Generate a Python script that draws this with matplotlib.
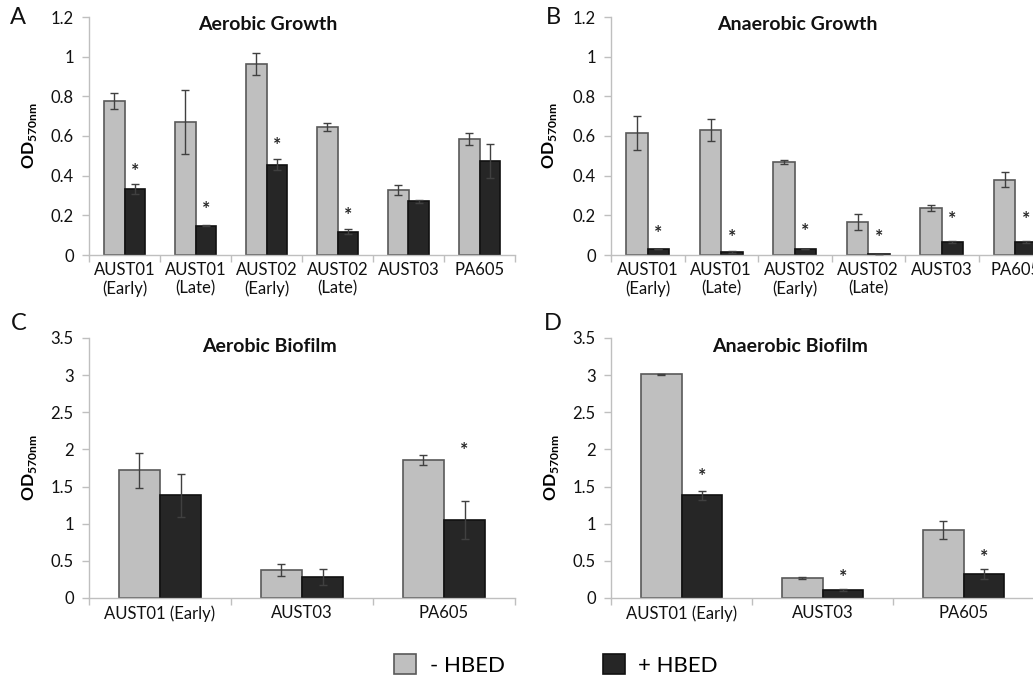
import numpy as np
import matplotlib.pyplot as plt
from matplotlib.patches import Patch

plt.rcParams['font.family'] = ['Lato', 'DejaVu Sans']
plt.rcParams['mathtext.fontset'] = 'custom'
plt.rcParams['mathtext.rm'] = 'Lato'
plt.rcParams['mathtext.bf'] = 'Lato:bold'

# strains
growth_labels = ['AUST01\n(Early)', 'AUST01\n(Late)', 'AUST02\n(Early)', 'AUST02\n(Late)', 'AUST03', 'PA605']
biofilm_labels = ['AUST01 (Early)', 'AUST03', 'PA605']

# A - aerobic growth
aer_growth_minus = [0.775, 0.67, 0.965, 0.645, 0.33, 0.585]
aer_growth_minus_err = [0.04, 0.16, 0.055, 0.02, 0.025, 0.03]
aer_growth_plus = [0.335, 0.148, 0.455, 0.118, 0.27, 0.475]
aer_growth_plus_err = [0.025, 0.004, 0.028, 0.012, 0.006, 0.085]
aer_growth_star = [0.42, 0.23, 0.55, 0.20, None, None]

# B - anaerobic growth
ana_growth_minus = [0.615, 0.63, 0.468, 0.165, 0.235, 0.38]
ana_growth_minus_err = [0.085, 0.055, 0.01, 0.04, 0.015, 0.037]
ana_growth_plus = [0.03, 0.015, 0.03, 0.005, 0.065, 0.065]
ana_growth_plus_err = [0.002, 0.004, 0.002, 0.001, 0.006, 0.007]
ana_growth_star = [0.11, 0.086, 0.116, 0.086, 0.18, 0.18]

# C - aerobic biofilm
aer_bio_minus = [1.72, 0.38, 1.86]
aer_bio_minus_err = [0.235, 0.08, 0.07]
aer_bio_plus = [1.38, 0.28, 1.05]
aer_bio_plus_err = [0.295, 0.11, 0.255]
aer_bio_star = [None, None, 1.98]

# D - anaerobic biofilm
ana_bio_minus = [3.01, 0.265, 0.91]
ana_bio_minus_err = [0.01, 0.012, 0.12]
ana_bio_plus = [1.38, 0.11, 0.32]
ana_bio_plus_err = [0.065, 0.015, 0.07]
ana_bio_star = [1.64, 0.27, 0.55]

light = '#bfbfbf'
dark = '#262626'
W, H = 1033, 678

fig = plt.figure(figsize=(W / 100, H / 100), dpi=100)


def px_axes(x0, x1, ytop, ybot):
    return fig.add_axes([x0 / W, 1 - ybot / H, (x1 - x0) / W, (ybot - ytop) / H])


def panel(ax, labels, minus, minus_err, plus, plus_err, stars, ymax, ystep):
    x = np.arange(len(labels))
    w = 0.29
    ax.bar(x - w / 2, minus, w, color=light, edgecolor='#595959', linewidth=1.2, zorder=2)
    ax.bar(x + w / 2, plus, w, color=dark, edgecolor='#111111', linewidth=1.2, zorder=2)
    ekw = dict(fmt='none', ecolor='#404040', elinewidth=1, capsize=3, capthick=1, zorder=3)
    ax.errorbar(x - w / 2, minus, yerr=minus_err, **ekw)
    ax.errorbar(x + w / 2, plus, yerr=plus_err, **ekw)
    for xi, s in zip(x, stars):
        if s is not None:
            ax.text(xi + w / 2, s, '*', ha='center', va='center', fontsize=14,
                    fontweight='bold', color='#262626')
    ax.set_xlim(-0.5, len(labels) - 0.5)
    ax.set_ylim(0, ymax)
    ticks = np.arange(0, ymax + 1e-9, ystep)
    ax.set_yticks(ticks)
    ax.set_yticklabels([f'{v:g}' for v in ticks])
    ax.set_xticks(x)
    ax.set_xticklabels(labels)
    ax.set_xticks(np.arange(-0.5, len(labels), 1), minor=True)
    ax.tick_params(axis='x', which='major', length=0, labelsize=12, pad=5, labelcolor='#111111')
    ax.tick_params(axis='x', which='minor', length=5, color=light, width=1)
    ax.tick_params(axis='y', length=5, color=light, width=1, labelsize=12, pad=6, labelcolor='#111111')
    for side in ['top', 'right']:
        ax.spines[side].set_visible(False)
    for side in ['left', 'bottom']:
        ax.spines[side].set_color(light)
        ax.spines[side].set_linewidth(1)
    ax.set_ylabel(r'$\mathbf{OD}_{\mathbf{570nm}}$', fontsize=12.5)
    ax.yaxis.set_label_coords(-0.118, 0.5)


axA = px_axes(89, 515, 17, 255)
panel(axA, growth_labels, aer_growth_minus, aer_growth_minus_err, aer_growth_plus,
      aer_growth_plus_err, aer_growth_star, 1.2, 0.2)
axB = px_axes(611, 1052, 17, 255)
panel(axB, growth_labels, ana_growth_minus, ana_growth_minus_err, ana_growth_plus,
      ana_growth_plus_err, ana_growth_star, 1.2, 0.2)
axC = px_axes(89, 515, 338, 598)
panel(axC, biofilm_labels, aer_bio_minus, aer_bio_minus_err, aer_bio_plus,
      aer_bio_plus_err, aer_bio_star, 3.5, 0.5)
axD = px_axes(611, 1034, 338, 598)
panel(axD, biofilm_labels, ana_bio_minus, ana_bio_minus_err, ana_bio_plus,
      ana_bio_plus_err, ana_bio_star, 3.5, 0.5)

# titles and panel letters
for txt, cx, cy in [('Aerobic Growth', 268, 24), ('Anaerobic Growth', 797, 24),
                    ('Aerobic Biofilm', 269, 346), ('Anaerobic Biofilm', 790, 346)]:
    fig.text(cx / W, 1 - cy / H, txt, ha='center', va='center', fontsize=14, fontweight='bold', color='#111111')
for txt, cx, cy in [('A', 18, 18), ('B', 553, 18), ('C', 19, 323), ('D', 553, 323)]:
    fig.text(cx / W, 1 - cy / H, txt, ha='center', va='center', fontsize=17, color='#111111')

handles = [Patch(facecolor=light, edgecolor='#595959', linewidth=1.2, label='- HBED'),
           Patch(facecolor=dark, edgecolor='#111111', linewidth=1.2, label='+ HBED')]
fig.legend(handles=handles, loc='center', bbox_to_anchor=(556 / W, 1 - 665 / H), ncol=2,
           frameon=False, fontsize=16, handlelength=1.0, handleheight=1.0,
           handletextpad=0.6, columnspacing=4.4)

fig.savefig('out.png', dpi=100)
